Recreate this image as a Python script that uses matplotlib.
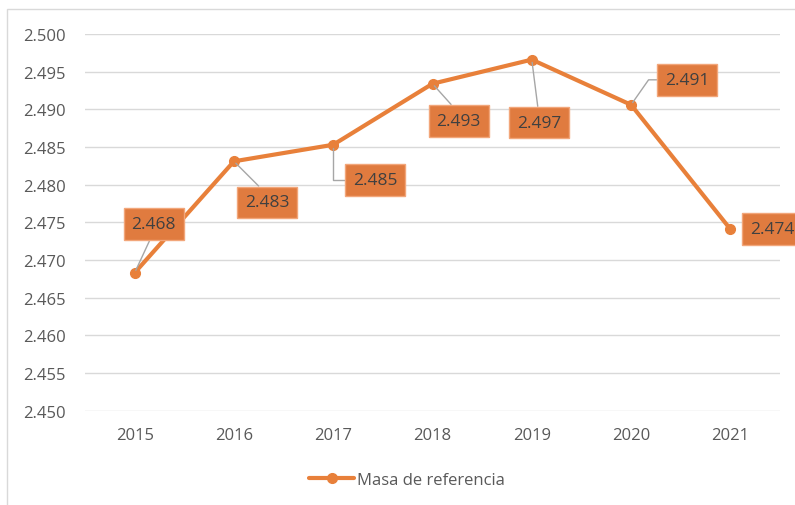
import matplotlib.pyplot as plt
from matplotlib.patches import Rectangle
from matplotlib.ticker import FormatStrFormatter, MultipleLocator

plt.rcParams["font.family"] = ["Open Sans", "DejaVu Sans"]

years = ["2015", "2016", "2017", "2018", "2019", "2020", "2021"]
masa = [2.4683, 2.4831, 2.4853, 2.4934, 2.4966, 2.4906, 2.4741]
series_name = "Masa de referencia"

line_color = "#E8803A"
box_color = "#E07B3F"
box_edge = "#F2A67A"
grid_color = "#D9D9D9"
tick_color = "#595959"
label_color = "#404040"
leader_color = "#A6A6A6"

# label box offsets (pixels from the point) and leader line style
label_layout = [
    ((19, 49), (0.5, 0.0), "arc3"),
    ((33, -41), (0.5, 1.0), "arc3"),
    ((42, -35), (0.0, 0.5), "angle,angleA=180,angleB=90,rad=0"),
    ((26, -37), (0.5, 1.0), "arc3"),
    ((7, -63), (0.5, 1.0), "arc3"),
    ((56, 25), (0.0, 0.5), "angle,angleA=180,angleB=55,rad=0"),
    ((42, 0), None, None),
]

fig = plt.figure(figsize=(7.95, 5.06), dpi=100)
fig.patch.set_facecolor("white")
ax = fig.add_axes([85 / 795, 1 - 411.7 / 506, 695 / 795, 376.7 / 506])

x = list(range(len(years)))
ax.plot(x, masa, color=line_color, lw=3, marker="o", ms=7,
        solid_capstyle="round", label=series_name, zorder=3)

for xi, v, (off, relpos, conn) in zip(x, masa, label_layout):
    arrow = None
    if conn is not None:
        arrow = dict(arrowstyle="-", color=leader_color, lw=1,
                     connectionstyle=conn, relpos=relpos,
                     shrinkA=0, shrinkB=2)
    ax.annotate(f"{v:.3f}", xy=(xi, v), xytext=off,
                textcoords="offset pixels", ha="center", va="center",
                fontsize=12.5, color=label_color,
                bbox=dict(boxstyle="square,pad=0.45", fc=box_color,
                          ec=box_edge, lw=1),
                arrowprops=arrow, annotation_clip=False, zorder=4)

ax.set_xlim(-0.5, len(years) - 0.5)
ax.set_ylim(2.450, 2.500)
ax.set_xticks(x)
ax.set_xticklabels(years)
ax.yaxis.set_major_locator(MultipleLocator(0.005))
ax.yaxis.set_major_formatter(FormatStrFormatter("%.3f"))
ax.tick_params(axis="both", length=0, labelsize=12, colors=tick_color)
ax.tick_params(axis="y", pad=14)
ax.tick_params(axis="x", pad=12)
ax.yaxis.grid(True, color=grid_color, lw=1)
ax.set_axisbelow(True)
for s in ax.spines.values():
    s.set_visible(False)

fig.legend(loc="center", bbox_to_anchor=(0.512, 0.049), frameon=False,
           fontsize=12, handlelength=2.7, handletextpad=0.15,
           labelcolor=tick_color)

fig.patches.append(Rectangle((6.5 / 795, -0.1), 1.5, 1 - 10 / 506 + 0.1,
                             transform=fig.transFigure, fill=False,
                             ec=grid_color, lw=1))

fig.savefig("out.png", dpi=100, facecolor="white")
